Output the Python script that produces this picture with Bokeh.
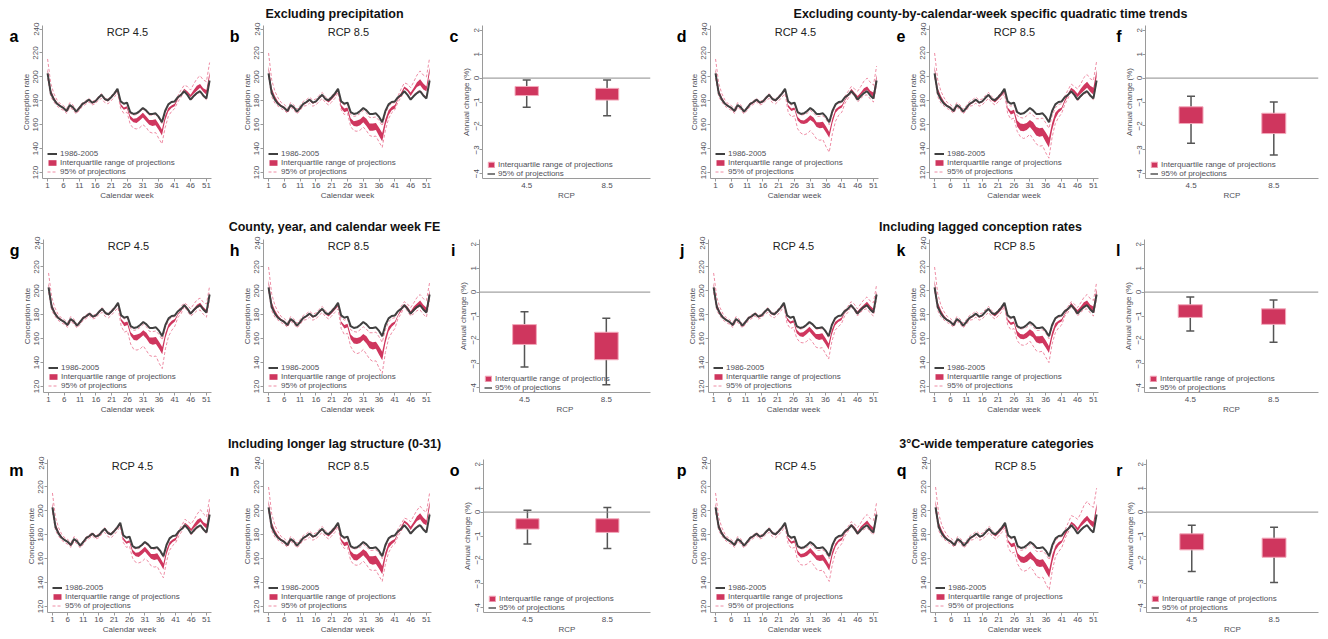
from bokeh.plotting import figure
from bokeh.layouts import column, row
from bokeh.models import (ColumnDataSource, Label, Legend, LegendItem, FixedTicker,
                          Range1d, Span, Spacer, LinearAxis)
from bokeh.embed import file_html
from bokeh.resources import INLINE

# ---------------- data ----------------
WEEKS = list(range(1, 53))
WEEK_TICKS = [1, 6, 11, 16, 21, 26, 31, 36, 41, 46, 51]
CONC_TICKS = [120, 140, 160, 180, 200, 220, 240]
CHANGE_TICKS = [-4, -3, -2, -1, 0, 1, 2]
RCP_LABELS = ["4.5", "8.5"]

# conception rate 1986-2005 by calendar week
BASELINE = [203, 186.5, 181, 177.5, 175.5, 174, 171.5, 176.5, 174.5, 171,
            174, 177.5, 179, 181, 178.5, 179.5, 182.5, 185, 181.5, 180.5,
            183, 186, 190, 179.5, 177.5, 178.5, 170.5, 169, 169.5, 171.5,
            174, 172, 169, 169, 169.5, 166.5, 162, 171.5, 177, 179,
            179.5, 183, 185, 188, 185, 181, 184, 186.5, 188, 184.5,
            182, 197]

# deviations of the projections from the 1986-2005 line, weeks 1-22
E45_Q25 = [1, 0, 0, 0, 0, -1, -1, -1, -1, -1, -1, -1, -1, -1, -1, -1, -1, -1, -1, -1, -1, -1]
E45_Q75 = [4, 3, 2, 1, 1, 0, 0, 0, 0, 0, 0, 0, 0, 0, 0, 0, 0, 0, 0, 0, 0, 0]
E45_LO = [-4, -3, -2, -2, -2, -2, -2, -2, -2, -2, -2, -2, -2, -2, -2, -2, -2, -3, -3, -3, -3, -3]
E45_HI = [12, 8, 5, 3, 2, 2, 2, 2, 2, 1, 1, 1, 1, 1, 1, 1, 1, 1, 1, 1, 1, 1]
E85_Q25 = [2, 1, 0, 0, 0, -1, -1, -1, -1, -1, -1, -1, -1, -1, -1, -1, -1, -1, -1, -2, -2, -2]
E85_Q75 = [6, 4, 3, 2, 1, 1, 0, 0, 0, 0, 0, 0, 0, 0, 0, 0, 0, 0, 0, 0, 0, 0]
E85_LO = [-3, -3, -3, -2, -2, -2, -2, -2, -2, -2, -2, -2, -3, -3, -3, -3, -3, -3, -3, -4, -4, -4]
E85_HI = [17, 11, 7, 5, 3, 3, 2, 2, 2, 2, 2, 2, 2, 2, 2, 2, 2, 2, 2, 1, 1, 1]

# deviations, weeks 23-52, per panel (25th pct, 75th pct, 2.5th pct, 97.5th pct)
A_Q25 = [-2, -4, -5, -5, -6, -7, -8, -8, -8, -9, -9, -10, -10, -11, -11, -8, -6, -5, -4, -2, 0, 1, 1, 2, 2, 2, 3, 3, 3, 3]
A_Q75 = [-1, -2, -3, -3, -3, -4, -4, -4, -4, -5, -5, -5, -5, -6, -6, -4, -3, -3, -2, 0, 1, 2, 3, 4, 5, 6, 6, 6, 7, 7]
A_LO = [-3, -6, -8, -8, -10, -12, -13, -14, -14, -14, -15, -16, -16, -18, -18, -14, -10, -8, -6, -4, -2, 0, 0, -1, -1, -1, -1, -1, -1, -1]
A_HI = [0, 0, 0, 0, -1, -1, -1, -1, -1, -1, -1, -1, -1, -1, -1, -1, -1, 0, 0, 1, 4, 5, 7, 8, 10, 12, 13, 13, 14, 15]

B_Q25 = [-2, -6, -7, -7, -9, -10, -11, -12, -12, -13, -14, -14, -14, -16, -16, -12, -9, -7, -6, -2, -1, 2, 3, 3, 4, 5, 5, 5, 6, 6]
B_Q75 = [-1, -3, -4, -4, -5, -6, -6, -7, -7, -7, -8, -8, -8, -9, -9, -7, -5, -4, -3, -1, 2, 4, 5, 6, 7, 9, 10, 10, 10, 11]
B_LO = [-3, -7, -9, -9, -12, -14, -15, -16, -16, -17, -18, -19, -19, -21, -21, -16, -12, -9, -7, -4, -2, 0, 0, 1, 1, 1, 1, 1, 1, 1]
B_HI = [0, -1, -1, -1, -2, -2, -2, -2, -2, -2, -3, -3, -3, -3, -3, -2, -2, -1, -1, 1, 5, 7, 9, 10, 12, 15, 17, 17, 18, 19]

D_Q25 = [-2, -5, -6, -6, -7, -8, -9, -10, -10, -10, -11, -12, -12, -13, -13, -10, -7, -6, -5, -3, -1, 0, 0, 1, 1, 1, 1, 1, 1, 1]
D_Q75 = [-1, -3, -4, -4, -4, -5, -6, -6, -6, -6, -7, -7, -7, -8, -8, -6, -4, -4, -3, -2, 0, 2, 2, 3, 3, 4, 4, 4, 5, 5]
D_LO = [-4, -9, -11, -11, -14, -16, -18, -19, -19, -20, -21, -22, -22, -25, -25, -19, -14, -11, -9, -5, -3, -1, -1, -2, -2, -2, -3, -3, -3, -3]
D_HI = [0, -1, -1, -1, -1, -1, -1, -2, -2, -2, -2, -2, -2, -2, -2, -2, -1, -1, -1, 1, 3, 4, 5, 7, 8, 10, 11, 11, 11, 12]

E_Q25 = [-3, -7, -9, -9, -12, -14, -15, -16, -16, -17, -18, -19, -19, -21, -21, -16, -12, -9, -7, -4, -1, 1, 1, 2, 2, 2, 3, 3, 3, 3]
E_Q75 = [-2, -5, -6, -6, -7, -8, -9, -10, -10, -10, -11, -12, -12, -13, -13, -10, -7, -6, -5, -2, 1, 3, 4, 5, 6, 7, 8, 8, 9, 9]
E_LO = [-4, -10, -13, -13, -16, -19, -21, -22, -22, -24, -25, -27, -27, -30, -30, -22, -16, -13, -10, -6, -3, 0, 0, -1, -1, -1, -1, -1, -1, -1]
E_HI = [-1, -2, -2, -2, -3, -3, -4, -4, -4, -4, -4, -4, -4, -5, -5, -4, -3, -2, -2, 1, 4, 6, 7, 9, 10, 13, 14, 14, 15, 16]

G_Q25 = [-2, -5, -7, -7, -8, -10, -11, -11, -11, -12, -13, -14, -14, -15, -15, -11, -8, -7, -5, -3, -2, 0, 0, -1, -1, -1, -1, -1, -1, -1]
G_Q75 = [-1, -3, -4, -4, -5, -6, -6, -7, -7, -7, -8, -8, -8, -9, -9, -7, -5, -4, -3, -2, -1, 1, 1, 1, 1, 2, 2, 2, 2, 2]
G_LO = [-4, -9, -12, -12, -15, -18, -19, -20, -20, -22, -23, -24, -24, -27, -27, -20, -15, -12, -9, -5, -4, -1, -2, -2, -3, -3, -4, -4, -4, -4]
G_HI = [0, -1, -1, -1, -2, -2, -2, -2, -2, -2, -3, -3, -3, -3, -3, -2, -2, -1, -1, 0, 2, 2, 3, 4, 5, 6, 6, 6, 7, 7]

H_Q25 = [-3, -7, -9, -9, -11, -13, -14, -15, -15, -16, -17, -18, -18, -20, -20, -15, -11, -9, -7, -4, -2, 0, 0, -1, -1, -1, -1, -1, -1, -1]
H_Q75 = [-2, -5, -6, -6, -7, -8, -9, -10, -10, -10, -11, -12, -12, -13, -13, -10, -7, -6, -5, -3, 0, 1, 2, 2, 3, 3, 4, 4, 4, 4]
H_LO = [-5, -11, -14, -14, -17, -20, -22, -23, -23, -25, -26, -28, -28, -31, -31, -23, -17, -14, -11, -6, -4, -1, -2, -2, -3, -3, -4, -4, -4, -4]
H_HI = [-1, -2, -2, -2, -3, -3, -4, -4, -4, -4, -4, -4, -4, -5, -5, -4, -3, -2, -2, 0, 2, 3, 4, 5, 6, 8, 9, 9, 10, 10]

J_Q25 = [-2, -4, -5, -5, -6, -7, -8, -8, -8, -9, -9, -10, -10, -11, -11, -8, -6, -5, -4, -2, -1, 0, 0, -1, -1, -1, -1, -1, -1, -1]
J_Q75 = [-1, -2, -3, -3, -3, -4, -4, -4, -4, -5, -5, -5, -5, -6, -6, -4, -3, -3, -2, -1, 0, 1, 1, 2, 2, 2, 3, 3, 3, 3]
J_LO = [-3, -7, -9, -9, -10, -12, -13, -14, -14, -15, -16, -17, -17, -19, -19, -14, -10, -9, -7, -4, -3, -1, -1, -2, -2, -2, -3, -3, -3, -3]
J_HI = [0, 0, 0, 0, -1, -1, -1, -1, -1, -1, -1, -1, -1, -1, -1, -1, -1, 0, 0, 1, 2, 3, 4, 4, 5, 6, 7, 7, 8, 8]

K_Q25 = [-2, -5, -6, -6, -8, -9, -10, -11, -11, -11, -12, -13, -13, -14, -14, -11, -8, -6, -5, -3, -1, 0, 0, 0, 0, 0, 0, 0, 0, 0]
K_Q75 = [-1, -3, -4, -4, -4, -5, -6, -6, -6, -6, -7, -7, -7, -8, -8, -6, -4, -4, -3, -2, 0, 2, 2, 3, 3, 4, 4, 4, 5, 5]
K_LO = [-3, -8, -10, -10, -12, -14, -15, -16, -16, -18, -19, -20, -20, -22, -22, -16, -12, -10, -8, -4, -3, -1, -1, -2, -2, -2, -3, -3, -3, -3]
K_HI = [0, -1, -1, -1, -1, -1, -1, -2, -2, -2, -2, -2, -2, -2, -2, -2, -1, -1, -1, 1, 2, 3, 4, 5, 6, 8, 9, 9, 10, 10]

M_Q25 = [-2, -4, -5, -5, -6, -7, -8, -8, -8, -9, -9, -10, -10, -11, -11, -8, -6, -5, -4, -2, 0, 1, 1, 2, 2, 2, 3, 3, 3, 3]
M_Q75 = [-1, -2, -3, -3, -3, -4, -4, -4, -4, -5, -5, -5, -5, -6, -6, -4, -3, -3, -2, 0, 1, 2, 3, 4, 5, 6, 6, 6, 7, 7]
M_LO = [-3, -6, -8, -8, -10, -12, -13, -14, -14, -14, -15, -16, -16, -18, -18, -14, -10, -8, -6, -4, -2, 0, 0, -1, -1, -1, -1, -1, -1, -1]
M_HI = [0, 0, 0, 0, -1, -1, -1, -1, -1, -1, -1, -1, -1, -1, -1, -1, -1, 0, 0, 1, 3, 5, 6, 8, 9, 11, 13, 13, 13, 14]

N_Q25 = [-2, -5, -7, -7, -8, -10, -11, -11, -11, -12, -13, -14, -14, -15, -15, -11, -8, -7, -5, -2, -1, 2, 3, 3, 4, 5, 5, 5, 6, 6]
N_Q75 = [-1, -3, -4, -4, -4, -5, -6, -6, -6, -6, -7, -7, -7, -8, -8, -6, -4, -4, -3, -1, 2, 4, 5, 6, 7, 9, 10, 10, 10, 11]
N_LO = [-3, -7, -9, -9, -12, -14, -15, -16, -16, -17, -18, -19, -19, -21, -21, -16, -12, -9, -7, -4, -2, 0, 0, 1, 1, 1, 1, 1, 1, 1]
N_HI = [0, -1, -1, -1, -1, -1, -1, -2, -2, -2, -2, -2, -2, -2, -2, -2, -1, -1, -1, 2, 4, 6, 8, 10, 12, 14, 16, 16, 17, 18]

P_Q25 = [-2, -4, -5, -5, -7, -8, -8, -9, -9, -10, -10, -11, -11, -12, -12, -9, -7, -5, -4, -2, -1, 0, 0, 1, 1, 1, 1, 1, 1, 1]
P_Q75 = [-1, -2, -3, -3, -4, -5, -5, -5, -5, -6, -6, -6, -6, -7, -7, -5, -4, -3, -2, -1, 0, 1, 2, 2, 3, 3, 4, 4, 4, 4]
P_LO = [-3, -7, -9, -9, -12, -14, -15, -16, -16, -17, -18, -19, -19, -21, -21, -16, -12, -9, -7, -4, -2, -1, -1, -1, -1, -2, -2, -2, -2, -2]
P_HI = [0, -1, -1, -1, -1, -1, -1, -2, -2, -2, -2, -2, -2, -2, -2, -2, -1, -1, -1, 1, 2, 3, 4, 5, 6, 8, 9, 9, 10, 10]

Q_Q25 = [-3, -6, -8, -8, -10, -12, -13, -14, -14, -14, -15, -16, -16, -18, -18, -14, -10, -8, -6, -4, -1, 1, 2, 2, 3, 3, 4, 4, 4, 4]
Q_Q75 = [-2, -4, -5, -5, -6, -7, -8, -8, -8, -9, -9, -10, -10, -11, -11, -8, -6, -5, -4, -1, 1, 3, 4, 5, 6, 7, 8, 8, 9, 9]
Q_LO = [-4, -10, -13, -13, -15, -18, -20, -21, -21, -22, -24, -25, -25, -28, -28, -21, -15, -13, -10, -6, -3, 0, 0, 0, 0, 0, 0, 0, 0, 0]
Q_HI = [0, -1, -1, -1, -2, -2, -2, -2, -2, -2, -3, -3, -3, -3, -3, -2, -2, -1, -1, 1, 5, 8, 10, 12, 14, 18, 20, 20, 21, 22]

# annual change (%) per RCP: [4.5, 8.5]
C_Q25 = [-0.73, -0.92]; C_Q75 = [-0.35, -0.43]; C_LO = [-1.22, -1.57]; C_HI = [-0.08, -0.08]
F_Q25 = [-1.90, -2.32]; F_Q75 = [-1.20, -1.47]; F_LO = [-2.73, -3.22]; F_HI = [-0.76, -1.00]
I_Q25 = [-2.19, -2.83]; I_Q75 = [-1.36, -1.68]; I_LO = [-3.13, -3.88]; I_HI = [-0.82, -1.09]
L_Q25 = [-1.06, -1.35]; L_Q75 = [-0.53, -0.70]; L_LO = [-1.63, -2.10]; L_HI = [-0.20, -0.33]
O_Q25 = [-0.71, -0.85]; O_Q75 = [-0.28, -0.28]; O_LO = [-1.33, -1.52]; O_HI = [0.08, 0.19]
R_Q25 = [-1.58, -1.89]; R_Q75 = [-0.91, -1.09]; R_LO = [-2.48, -2.94]; R_HI = [-0.55, -0.63]

GROUP_TITLES = [
    ("Excluding precipitation", "Excluding county-by-calendar-week specific quadratic time trends"),
    ("County, year, and calendar week FE", "Including lagged conception rates"),
    ("Including longer lag structure (0-31)", "3\u00b0C-wide temperature categories"),
]

# ---------------- styling ----------------
FONT = "Liberation Sans"
RED = "#CF365E"
PINK = "#EE8CA4"
BOX_EDGE = "#F3A9BB"
DARK = "#404040"
AXIS_GREY = "#9a9a9a"
TEXT_GREY = "#4f4f58"

E45 = (E45_Q25, E45_Q75, E45_LO, E45_HI)
E85 = (E85_Q25, E85_Q75, E85_LO, E85_HI)

FIG_H = 180
FRAME_H = 156


def style_axes(p, xlabel, ylabel):
    for ax in (p.xaxis[0], p.yaxis[0]):
        ax.axis_line_color = AXIS_GREY
        ax.axis_line_width = 1
        ax.major_tick_line_color = AXIS_GREY
        ax.minor_tick_line_color = None
        ax.major_tick_out = 3
        ax.major_tick_in = 0
        ax.major_label_text_font = FONT
        ax.major_label_text_font_size = "8px"
        ax.major_label_text_color = TEXT_GREY
        ax.axis_label_text_font = FONT
        ax.axis_label_text_font_size = "8px"
        ax.axis_label_text_font_style = "normal"
        ax.axis_label_text_color = TEXT_GREY
        ax.major_label_standoff = 1
        ax.axis_label_standoff = 0
    p.xaxis.axis_label = xlabel
    p.yaxis.axis_label = ylabel
    p.yaxis.major_label_orientation = "vertical"
    p.xgrid.visible = False
    p.ygrid.visible = False
    p.outline_line_color = None


def letter_axis(p, letter, at):
    # panel letter drawn as the single label of an outer, line-less left axis
    ax = LinearAxis(ticker=FixedTicker(ticks=[at]), major_label_overrides={at: letter},
                    axis_line_color=None, major_tick_line_color=None,
                    minor_tick_line_color=None, major_tick_out=0, major_tick_in=0,
                    major_label_standoff=0, major_label_orientation="horizontal",
                    major_label_text_font=FONT, major_label_text_font_size="16px",
                    major_label_text_font_style="bold", major_label_text_color="black")
    p.add_layout(ax, "left")


def curve_panel(letter, rcp, early, late):
    cols = {}
    for key, e, l in zip(("q25", "q75", "lo", "hi"), early, late):
        dev = e + l
        cols[key] = [b + d for b, d in zip(BASELINE, dev)]
    cols["week"] = WEEKS
    cols["base"] = BASELINE
    src = ColumnDataSource(cols)
    p = figure(width=220, height=FIG_H, output_backend="svg", toolbar_location=None,
               x_range=Range1d(-0.6, 52.6), y_range=Range1d(115, 243),
               min_border_left=35, min_border_right=15, min_border_top=3,
               min_border_bottom=21)
    r_hi = p.line("week", "hi", source=src, line_color=PINK, line_width=1, line_dash="3 2")
    p.line("week", "lo", source=src, line_color=PINK, line_width=1, line_dash="3 2")
    r_band = p.varea("week", y1="q25", y2="q75", source=src, fill_color=RED)
    r_base = p.line("week", "base", source=src, line_color=DARK, line_width=2)
    style_axes(p, "Calendar week", "Conception rate")
    p.xaxis.ticker = FixedTicker(ticks=WEEK_TICKS)
    p.yaxis.ticker = FixedTicker(ticks=CONC_TICKS)
    legend = Legend(items=[LegendItem(label="1986-2005", renderers=[r_base]),
                           LegendItem(label="Interquartile range of projections", renderers=[r_band]),
                           LegendItem(label="95% of projections", renderers=[r_hi])],
                    location=(5, 2), label_text_font=FONT, label_text_font_size="8px",
                    label_text_color=TEXT_GREY, label_height=9, label_standoff=3,
                    glyph_width=10, glyph_height=7, spacing=0, padding=0, margin=0,
                    background_fill_alpha=0, border_line_alpha=0)
    p.add_layout(legend)
    p.add_layout(Label(x=85, y=FRAME_H - 9, x_units="screen", y_units="screen",
                       text="RCP " + rcp, text_align="center", text_baseline="alphabetic",
                       text_font=FONT, text_font_size="11px", text_color="#222222"))
    letter_axis(p, letter, 234)
    return p


def bar_panel(letter, q25, q75, lo, hi, width, left, right):
    xs = [i + 1 for i in range(len(RCP_LABELS))]
    src = ColumnDataSource(dict(x=xs, q25=q25, q75=q75, lo=lo, hi=hi))
    p = figure(width=width, height=FIG_H, output_backend="svg", toolbar_location=None,
               x_range=Range1d(0.45, 2.54), y_range=Range1d(-4.2, 2.2),
               min_border_left=left, min_border_right=right, min_border_top=3,
               min_border_bottom=21)
    p.add_layout(Span(location=0, dimension="width", line_color="#8c8c8c", line_width=1))
    r_wh = p.segment(x0="x", y0="lo", x1="x", y1="hi", source=src,
                     line_color="#555555", line_width=1.5)
    p.scatter("x", "lo", source=src, marker="dash", size=8, line_color="#555555", line_width=1.5)
    p.scatter("x", "hi", source=src, marker="dash", size=8, line_color="#555555", line_width=1.5)
    r_box = p.vbar(x="x", width=0.29, bottom="q25", top="q75", source=src,
                   fill_color=RED, line_color=BOX_EDGE, line_width=1)
    style_axes(p, "RCP", "Annual change (%)")
    p.xaxis.ticker = FixedTicker(ticks=xs)
    p.xaxis.major_label_overrides = {x: lab for x, lab in zip(xs, RCP_LABELS)}
    p.xaxis.major_tick_line_color = None
    p.yaxis.ticker = FixedTicker(ticks=CHANGE_TICKS)
    legend = Legend(items=[LegendItem(label="Interquartile range of projections", renderers=[r_box]),
                           LegendItem(label="95% of projections", renderers=[r_wh])],
                    location=(5, 0), label_text_font=FONT, label_text_font_size="8px",
                    label_text_color=TEXT_GREY, label_height=9, label_standoff=3,
                    glyph_width=8, glyph_height=7, spacing=0, padding=0, margin=0,
                    background_fill_alpha=0, border_line_alpha=0)
    p.add_layout(legend)
    letter_axis(p, letter, 1.75)
    return p


def header(h, titles, y, xs):
    p = figure(width=1312, height=h, output_backend="svg", toolbar_location=None,
               x_range=Range1d(0, 1), y_range=Range1d(0, 1), min_border=0,
               x_axis_type=None, y_axis_type=None)
    p.outline_line_color = None
    p.grid.visible = False
    for txt, cx in zip(titles, xs):
        p.add_layout(Label(x=cx, y=y, x_units="screen", y_units="screen", text=txt,
                           text_align="center", text_baseline="middle", text_font=FONT,
                           text_font_size="12.5px", text_font_style="bold",
                           text_color="#111111"))
    return p


ROWS = [
    [("a", "4.5", E45, (A_Q25, A_Q75, A_LO, A_HI)), ("b", "8.5", E85, (B_Q25, B_Q75, B_LO, B_HI)),
     ("c", C_Q25, C_Q75, C_LO, C_HI),
     ("d", "4.5", E45, (D_Q25, D_Q75, D_LO, D_HI)), ("e", "8.5", E85, (E_Q25, E_Q75, E_LO, E_HI)),
     ("f", F_Q25, F_Q75, F_LO, F_HI)],
    [("g", "4.5", E45, (G_Q25, G_Q75, G_LO, G_HI)), ("h", "8.5", E85, (H_Q25, H_Q75, H_LO, H_HI)),
     ("i", I_Q25, I_Q75, I_LO, I_HI),
     ("j", "4.5", E45, (J_Q25, J_Q75, J_LO, J_HI)), ("k", "8.5", E85, (K_Q25, K_Q75, K_LO, K_HI)),
     ("l", L_Q25, L_Q75, L_LO, L_HI)],
    [("m", "4.5", E45, (M_Q25, M_Q75, M_LO, M_HI)), ("n", "8.5", E85, (N_Q25, N_Q75, N_LO, N_HI)),
     ("o", O_Q25, O_Q75, O_LO, O_HI),
     ("p", "4.5", E45, (P_Q25, P_Q75, P_LO, P_HI)), ("q", "8.5", E85, (Q_Q25, Q_Q75, Q_LO, Q_HI)),
     ("r", R_Q25, R_Q75, R_LO, R_HI)],
]

# header height, title centre (px from header bottom), title x-centres
HEADERS = [(14, 9, (326, 982)), (34, 10, (326, 972)), (40, 13, (326, 988))]

blocks = [Spacer(width=1312, height=8)]
for (hh, hy, hx), titles, spec in zip(HEADERS, GROUP_TITLES, ROWS):
    blocks.append(row(Spacer(width=8, height=hh), header(hh, titles, hy, hx)))
    a, b, c, d, e, f = spec
    figs = [Spacer(width=6, height=FIG_H),
            curve_panel(*a), curve_panel(*b), bar_panel(*c, width=212, left=33, right=8),
            Spacer(width=15, height=FIG_H),
            curve_panel(*d), curve_panel(*e), bar_panel(*f, width=207, left=31, right=2)]
    blocks.append(row(*figs))

layout = column(*blocks)
open("out.html", "w").write(file_html(layout, INLINE))
